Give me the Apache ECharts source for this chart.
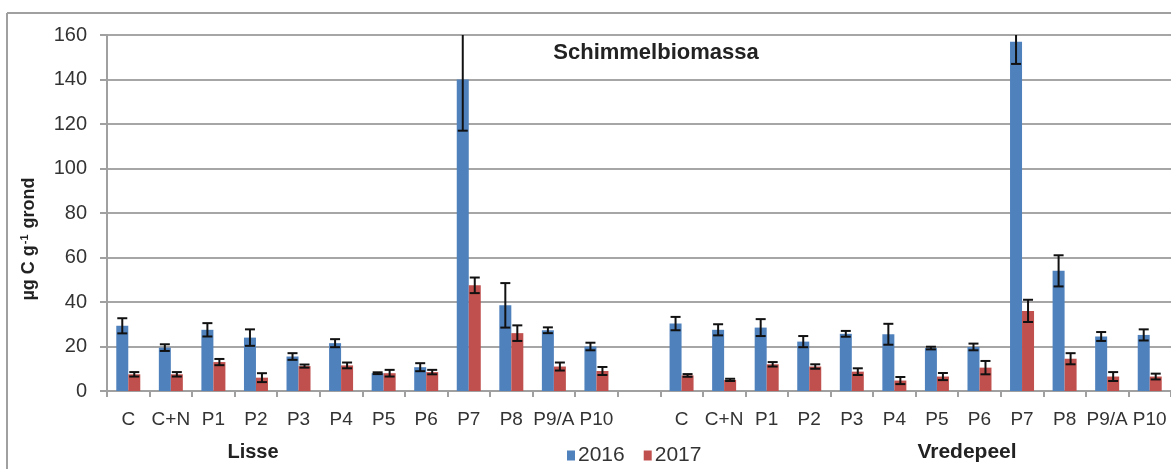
<!DOCTYPE html>
<html>
<head>
<meta charset="utf-8">
<script src="https://cdn.jsdelivr.net/npm/echarts@6/dist/echarts.min.js"></script>
<style>
  html, body { margin: 0; padding: 0; background: #fff; }
  #chart { width: 1171px; height: 469px; }
</style>
</head>
<body>
<div id="chart"></div>
<script>
// Treatments per location
const treatments = ['C', 'C+N', 'P1', 'P2', 'P3', 'P4', 'P5', 'P6', 'P7', 'P8', 'P9/A', 'P10'];
const locations = ['Lisse', 'Vredepeel'];
const years = ['2016', '2017'];

// Fungal biomass (µg C per g soil) and standard errors
const lisse2016 = [29.3, 19.5, 27.5, 24, 15.5, 21.5, 8, 10.7, 140, 38.5, 27.3, 20];
const lisse2016Err = [3.4, 1.5, 3, 3.7, 1.5, 1.8, 0.4, 1.8, 23, 10, 1.3, 1.7];
const lisse2017 = [7.5, 7.5, 13, 6, 11.2, 11.5, 8, 8.5, 47.5, 26, 11, 9];
const lisse2017Err = [1, 1, 1.4, 2, 0.7, 1.3, 1.5, 1, 3.5, 3.5, 1.8, 1.8];
const vredepeel2016 = [30.3, 27.5, 28.5, 22.2, 25.7, 25.5, 19.3, 19.8, 157, 54, 24.5, 25.2];
const vredepeel2016Err = [3, 2.5, 3.8, 2.5, 1.3, 4.7, 0.6, 1.5, 10, 7, 2, 2.5];
const vredepeel2017 = [7, 5, 12, 11, 8.7, 4.7, 6.5, 10.5, 36, 14.5, 6.5, 6.5];
const vredepeel2017Err = [0.6, 0.5, 1, 1, 1.5, 1.6, 1.6, 3, 5, 2.5, 2, 1.3];

const yTicks = [0, 20, 40, 60, 80, 100, 120, 140, 160];

// One empty slot separates the two locations on the category axis
const categories = treatments.concat(['']).concat(treatments);
const values2016 = lisse2016.concat([null]).concat(vredepeel2016);
const values2017 = lisse2017.concat([null]).concat(vredepeel2017);
const errors2016 = lisse2016Err.concat([null]).concat(vredepeel2016Err);
const errors2017 = lisse2017Err.concat([null]).concat(vredepeel2017Err);

const FONT = 'Liberation Sans, Arial, sans-serif';
const BAR_W = 12;
const COLORS = ['#4f81bd', '#c0504d'];

function errorRows(vals, errs) {
  return vals.map((v, i) => (v == null ? [i, null, null] : [i, v, errs[i]]));
}

function errorBar(offset) {
  return function (params, api) {
    const v = api.value(1);
    if (v == null || isNaN(v)) return;
    const e = api.value(2);
    const idx = api.value(0);
    const top = api.coord([idx, v + e]);
    const bot = api.coord([idx, v - e]);
    const x = top[0] + offset;
    const cap = 5;
    const style = { stroke: '#111', lineWidth: 2 };
    return {
      type: 'group',
      children: [
        { type: 'line', shape: { x1: x, y1: top[1], x2: x, y2: bot[1] }, style },
        { type: 'line', shape: { x1: x - cap, y1: top[1], x2: x + cap, y2: top[1] }, style },
        { type: 'line', shape: { x1: x - cap, y1: bot[1], x2: x + cap, y2: bot[1] }, style }
      ]
    };
  };
}

const chart = echarts.init(document.getElementById('chart'), null, { renderer: 'canvas' });

chart.setOption({
  animation: false,
  textStyle: { fontFamily: FONT },
  grid: { left: 107, top: 35, width: 1065, height: 356, containLabel: false },
  legend: {
    data: years,
    left: 562, top: 440,
    itemWidth: 8, itemHeight: 10, itemGap: 19,
    icon: 'rect',
    textStyle: { fontFamily: FONT, fontSize: 21, color: '#333', padding: [0, 0, 0, -2] }
  },
  xAxis: {
    type: 'category',
    data: categories,
    axisLine: { lineStyle: { color: '#a0a0a0', width: 2 } },
    axisTick: { show: true, length: 6, interval: 0, lineStyle: { color: '#a0a0a0', width: 2 } },
    axisLabel: { interval: 0, fontSize: 19, color: '#333', margin: 19, fontFamily: FONT }
  },
  yAxis: {
    type: 'value',
    min: yTicks[0], max: yTicks[yTicks.length - 1], interval: 20,
    axisLine: { show: true, lineStyle: { color: '#a0a0a0', width: 2 } },
    axisTick: { show: true, length: 7, lineStyle: { color: '#a0a0a0', width: 2 } },
    axisLabel: { fontSize: 20, color: '#333', margin: 20, fontFamily: FONT },
    splitLine: { lineStyle: { color: '#a6a6a6', width: 2 } }
  },
  series: [
    {
      name: years[0], type: 'bar', data: values2016, barWidth: BAR_W, barGap: '0%',
      itemStyle: { color: COLORS[0] }, z: 2
    },
    {
      name: years[1], type: 'bar', data: values2017, barWidth: BAR_W, barGap: '0%',
      itemStyle: { color: COLORS[1] }, z: 2
    },
    {
      type: 'custom', clip: true, z: 5, silent: true,
      renderItem: errorBar(-BAR_W / 2),
      data: errorRows(values2016, errors2016),
      encode: { x: 0, y: 1 }
    },
    {
      type: 'custom', clip: true, z: 5, silent: true,
      renderItem: errorBar(BAR_W / 2),
      data: errorRows(values2017, errors2017),
      encode: { x: 0, y: 1 }
    }
  ],
  graphic: [
    { type: 'line', shape: { x1: 7, y1: 13, x2: 1171, y2: 13 }, style: { stroke: '#a0a0a0', lineWidth: 2 } },
    { type: 'line', shape: { x1: 7, y1: 13, x2: 7, y2: 469 }, style: { stroke: '#a0a0a0', lineWidth: 2 } },
    {
      type: 'text', x: 656, y: 53,
      style: { text: 'Schimmelbiomassa', font: 'bold 22px ' + FONT, fill: '#222', align: 'center', verticalAlign: 'middle' }
    },
    {
      type: 'text', x: 29, y: 239, rotation: Math.PI / 2,
      style: {
        text: '{a|µg C g}{s|-1}{a| grond}',
        align: 'center', verticalAlign: 'middle',
        rich: {
          a: { font: 'bold 18px ' + FONT, fill: '#222' },
          s: { font: 'bold 11px ' + FONT, fill: '#222', padding: [0, 1, 9, 1] }
        }
      }
    },
    {
      type: 'text', x: 253, y: 452,
      style: { text: locations[0], font: 'bold 20px ' + FONT, fill: '#222', align: 'center', verticalAlign: 'middle' }
    },
    {
      type: 'text', x: 967, y: 452,
      style: { text: locations[1], font: 'bold 21px ' + FONT, fill: '#222', align: 'center', verticalAlign: 'middle' }
    }
  ]
});
</script>
</body>
</html>
